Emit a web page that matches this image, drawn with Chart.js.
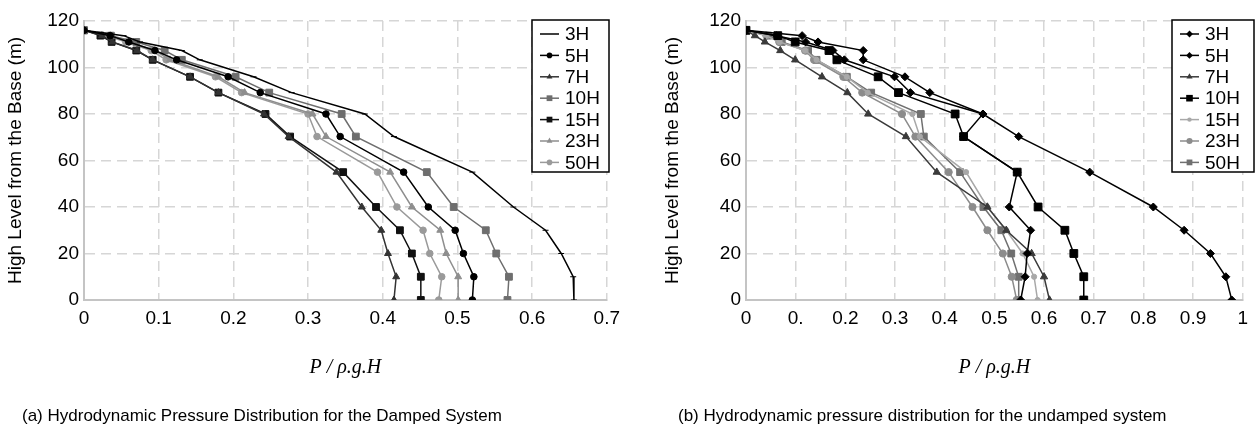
<!DOCTYPE html>
<html>
<head>
<meta charset="utf-8">
<script src="https://cdn.jsdelivr.net/npm/chart.js@4.4.1/dist/chart.umd.min.js"></script>
<style>
  html, body { margin: 0; padding: 0; background: #fff; }
  #wrap { position: relative; width: 1255px; height: 432px; overflow: hidden; }
  #wrap canvas { position: absolute; top: 0; }
  #chartA { left: 0; }
  #chartB { left: 627px; }
  .caption { position: absolute; top: 406px; font-family: 'Liberation Sans', Arial, sans-serif;
             font-size: 17px; color: #000; white-space: nowrap; line-height: 20px; }
  #capA { left: 22px; }
  #capB { left: 678px; }
</style>
</head>
<body>
<div id="wrap">
  <canvas id="chartA" width="627" height="432"></canvas>
  <canvas id="chartB" width="628" height="432"></canvas>
  <div class="caption" id="capA">(a) Hydrodynamic Pressure Distribution for the Damped System</div>
  <div class="caption" id="capB">(b) Hydrodynamic pressure distribution for the undamped system</div>
</div>
<script>
// Niveaux (m) des points de mesure, communs à toutes les courbes
var levels = [116, 113.7, 111, 107.3, 103.3, 96, 89.2, 80, 70.3, 55, 40, 30, 20, 10, 0];
var seriesNames = ['3H', '5H', '7H', '10H', '15H', '23H', '50H'];

// (a) système amorti : P / rho.g.H pour chaque niveau
var damped3H  = [0, 0.053, 0.075, 0.131, 0.155, 0.227, 0.278, 0.376, 0.415, 0.520, 0.575, 0.618, 0.639, 0.655, 0.656];
var damped5H  = [0, 0.035, 0.060, 0.095, 0.124, 0.193, 0.236, 0.324, 0.343, 0.428, 0.461, 0.497, 0.508, 0.522, 0.520];
var damped7H  = [0, 0.024, 0.038, 0.071, 0.092, 0.142, 0.180, 0.241, 0.274, 0.338, 0.372, 0.398, 0.407, 0.418, 0.415];
var damped10H = [0, 0.036, 0.070, 0.108, 0.131, 0.203, 0.248, 0.345, 0.364, 0.459, 0.495, 0.538, 0.552, 0.569, 0.567];
var damped15H = [0, 0.022, 0.037, 0.070, 0.092, 0.142, 0.180, 0.243, 0.276, 0.347, 0.391, 0.423, 0.439, 0.451, 0.451];
var damped23H = [0, 0.035, 0.060, 0.095, 0.115, 0.180, 0.215, 0.306, 0.324, 0.410, 0.439, 0.477, 0.485, 0.501, 0.501];
var damped50H = [0, 0.030, 0.056, 0.090, 0.110, 0.176, 0.211, 0.300, 0.312, 0.393, 0.419, 0.454, 0.463, 0.479, 0.475];

// (b) système non amorti
var undamped3H  = [0, 0.113, 0.145, 0.236, 0.236, 0.320, 0.370, 0.477, 0.549, 0.692, 0.820, 0.882, 0.935, 0.966, 0.978];
var undamped5H  = [0, 0.061, 0.120, 0.175, 0.198, 0.299, 0.331, 0.477, 0.438, 0.546, 0.530, 0.573, 0.566, 0.562, 0.553];
var undamped7H  = [0, 0.018, 0.038, 0.069, 0.099, 0.153, 0.204, 0.246, 0.322, 0.384, 0.486, 0.524, 0.575, 0.600, 0.611];
var undamped10H = [0, 0.064, 0.099, 0.167, 0.183, 0.266, 0.307, 0.421, 0.438, 0.546, 0.588, 0.642, 0.660, 0.680, 0.680];
var undamped15H = [0, 0.040, 0.067, 0.119, 0.142, 0.203, 0.245, 0.335, 0.350, 0.443, 0.486, 0.524, 0.557, 0.580, 0.587];
var undamped23H = [0, 0.041, 0.067, 0.119, 0.137, 0.196, 0.234, 0.314, 0.341, 0.408, 0.456, 0.486, 0.517, 0.535, 0.545];
var undamped50H = [0, 0.045, 0.072, 0.125, 0.142, 0.203, 0.252, 0.352, 0.358, 0.431, 0.478, 0.514, 0.534, 0.549, 0.549];

// Graduations
var xTicksA  = [0, 0.1, 0.2, 0.3, 0.4, 0.5, 0.6, 0.7];
var xLabelsA = ['0', '0.1', '0.2', '0.3', '0.4', '0.5', '0.6', '0.7'];
var xTicksB  = [0, 0.1, 0.2, 0.3, 0.4, 0.5, 0.6, 0.7, 0.8, 0.9, 1];
var xLabelsB = ['0', '0.', '0.2', '0.3', '0.4', '0.5', '0.6', '0.7', '0.8', '0.9', '1'];
var yTicks   = [0, 20, 40, 60, 80, 100, 120];
var yLabels  = ['0', '20', '40', '60', '80', '100', '120'];

(function () {
    'use strict';

    var SANS = "'Liberation Sans', Arial, sans-serif";
    var GRID = '#d6d6d6';

    function points(values) {
        return values.map(function (v, i) { return { x: v, y: levels[i] }; });
    }

    function serie(label, values, color, style, radius) {
        return {
            label: label,
            data: points(values),
            showLine: true,
            borderColor: color,
            backgroundColor: color,
            borderWidth: 1.5,
            pointStyle: style,
            pointRadius: radius,
            pointBorderWidth: 1,
            pointBackgroundColor: color,
            pointBorderColor: color,
            tension: 0
        };
    }

    // Marqueur de légende (mêmes formes que Chart.js)
    function marker(ctx, style, r, x, y, color) {
        ctx.save();
        ctx.fillStyle = color;
        ctx.beginPath();
        if (style === 'circle') {
            ctx.arc(x, y, r, 0, Math.PI * 2);
        } else if (style === 'rect') {
            var s = r * Math.SQRT1_2;
            ctx.rect(x - s, y - s, 2 * s, 2 * s);
        } else if (style === 'rectRot') {
            ctx.moveTo(x - r, y); ctx.lineTo(x, y - r); ctx.lineTo(x + r, y); ctx.lineTo(x, y + r);
            ctx.closePath();
        } else if (style === 'triangle') {
            var a = 0;
            ctx.moveTo(x + Math.sin(a) * r, y - Math.cos(a) * r);
            a += 2 * Math.PI / 3;
            ctx.lineTo(x + Math.sin(a) * r, y - Math.cos(a) * r);
            a += 2 * Math.PI / 3;
            ctx.lineTo(x + Math.sin(a) * r, y - Math.cos(a) * r);
            ctx.closePath();
        } else {
            ctx.restore();
            return;
        }
        ctx.fill();
        ctx.restore();
    }

    // Légende encadrée, dessinée dans la zone du graphique
    var insetLegend = {
        id: 'insetLegend',
        afterDraw: function (chart, args, opts) {
            var ctx = chart.ctx;
            var b = opts.box;
            ctx.save();
            ctx.fillStyle = '#fff';
            ctx.fillRect(b.x, b.y, b.w, b.h);
            ctx.strokeStyle = '#000';
            ctx.lineWidth = 1.5;
            ctx.strokeRect(b.x, b.y, b.w, b.h);
            ctx.font = '19px ' + SANS;
            ctx.textBaseline = 'middle';
            chart.data.datasets.forEach(function (ds, i) {
                var y = b.y + opts.first + i * opts.rowH;
                ctx.strokeStyle = ds.borderColor;
                ctx.lineWidth = 1.5;
                ctx.beginPath();
                ctx.moveTo(b.x + 8, y);
                ctx.lineTo(b.x + 27, y);
                ctx.stroke();
                marker(ctx, ds.pointStyle, ds.pointRadius * 0.85, b.x + 17.5, y, ds.borderColor);
                ctx.fillStyle = '#000';
                ctx.fillText(ds.label, b.x + 33, y + 1);
            });
            ctx.restore();
        }
    };

    function options(cfg) {
        return {
            responsive: false,
            animation: false,
            devicePixelRatio: 1,
            layout: { padding: cfg.padding },
            plugins: {
                legend: { display: false },
                tooltip: { enabled: false },
                insetLegend: { box: cfg.legendBox, first: 14, rowH: 21.4 }
            },
            scales: {
                x: {
                    type: 'linear',
                    min: 0,
                    max: cfg.xMax,
                    afterBuildTicks: function (s) { s.ticks = cfg.xTicks.map(function (v) { return { value: v }; }); },
                    afterFit: function (s) { s.height = 97; },
                    ticks: {
                        padding: 7,
                        color: '#000',
                        autoSkip: false,
                        maxRotation: 0,
                        font: { family: SANS, size: 19 },
                        callback: function (v, i) { return cfg.xLabels[i]; }
                    },
                    grid: { color: GRID, lineWidth: 1.5, drawTicks: false },
                    border: { color: '#c4c4c4', width: 2, dash: [10, 6] },
                    title: {
                        display: true,
                        text: 'P / ρ.g.H',
                        color: '#000',
                        font: { family: "'Liberation Serif', 'Times New Roman', serif", size: 20, style: 'italic' },
                        padding: { top: 0, bottom: 17 }
                    }
                },
                y: {
                    min: 0,
                    max: 120,
                    afterBuildTicks: function (s) { s.ticks = yTicks.map(function (v) { return { value: v }; }); },
                    afterFit: function (s) { s.width = cfg.yWidth; },
                    ticks: {
                        padding: 5,
                        color: '#000',
                        font: { family: SANS, size: 19 },
                        callback: function (v, i) { return yLabels[i]; }
                    },
                    grid: { color: GRID, lineWidth: 1.5, drawTicks: false },
                    border: { color: '#c4c4c4', width: 2, dash: [10, 6] },
                    title: {
                        display: true,
                        text: 'High Level from the Base (m)',
                        color: '#000',
                        font: { family: SANS, size: 19 },
                        padding: { top: 4, bottom: 4 }
                    }
                }
            }
        };
    }

    new Chart(document.getElementById('chartA'), {
        type: 'scatter',
        data: {
            datasets: [
                serie(seriesNames[0], damped3H,  '#000000', 'line', 3),
                serie(seriesNames[1], damped5H,  '#000000', 'circle', 3.3),
                serie(seriesNames[2], damped7H,  '#333333', 'triangle', 4),
                serie(seriesNames[3], damped10H, '#6e6e6e', 'rect', 4.8),
                serie(seriesNames[4], damped15H, '#111111', 'rect', 4.8),
                serie(seriesNames[5], damped23H, '#8e8e8e', 'triangle', 4),
                serie(seriesNames[6], damped50H, '#9a9a9a', 'circle', 3.3)
            ]
        },
        options: options({
            padding: { left: 0, right: 20, top: 21, bottom: 35 },
            yWidth: 84,
            xMax: 0.7,
            xTicks: xTicksA,
            xLabels: xLabelsA,
            legendBox: { x: 532, y: 20, w: 77, h: 152 }
        }),
        plugins: [insetLegend]
    });

    new Chart(document.getElementById('chartB'), {
        type: 'scatter',
        data: {
            datasets: [
                serie(seriesNames[0], undamped3H,  '#000000', 'rectRot', 4),
                serie(seriesNames[1], undamped5H,  '#000000', 'rectRot', 4),
                serie(seriesNames[2], undamped7H,  '#3a3a3a', 'triangle', 4.2),
                serie(seriesNames[3], undamped10H, '#000000', 'rect', 5.5),
                serie(seriesNames[4], undamped15H, '#a8a8a8', 'circle', 2.6),
                serie(seriesNames[5], undamped23H, '#8c8c8c', 'circle', 3.6),
                serie(seriesNames[6], undamped50H, '#707070', 'rect', 4.8)
            ]
        },
        options: options({
            padding: { left: 30, right: 5, top: 21, bottom: 35 },
            yWidth: 89,
            xMax: 1,
            xTicks: xTicksB,
            xLabels: xLabelsB,
            legendBox: { x: 545, y: 20, w: 82, h: 152 }
        }),
        plugins: [insetLegend]
    });
})();
</script>
</body>
</html>
